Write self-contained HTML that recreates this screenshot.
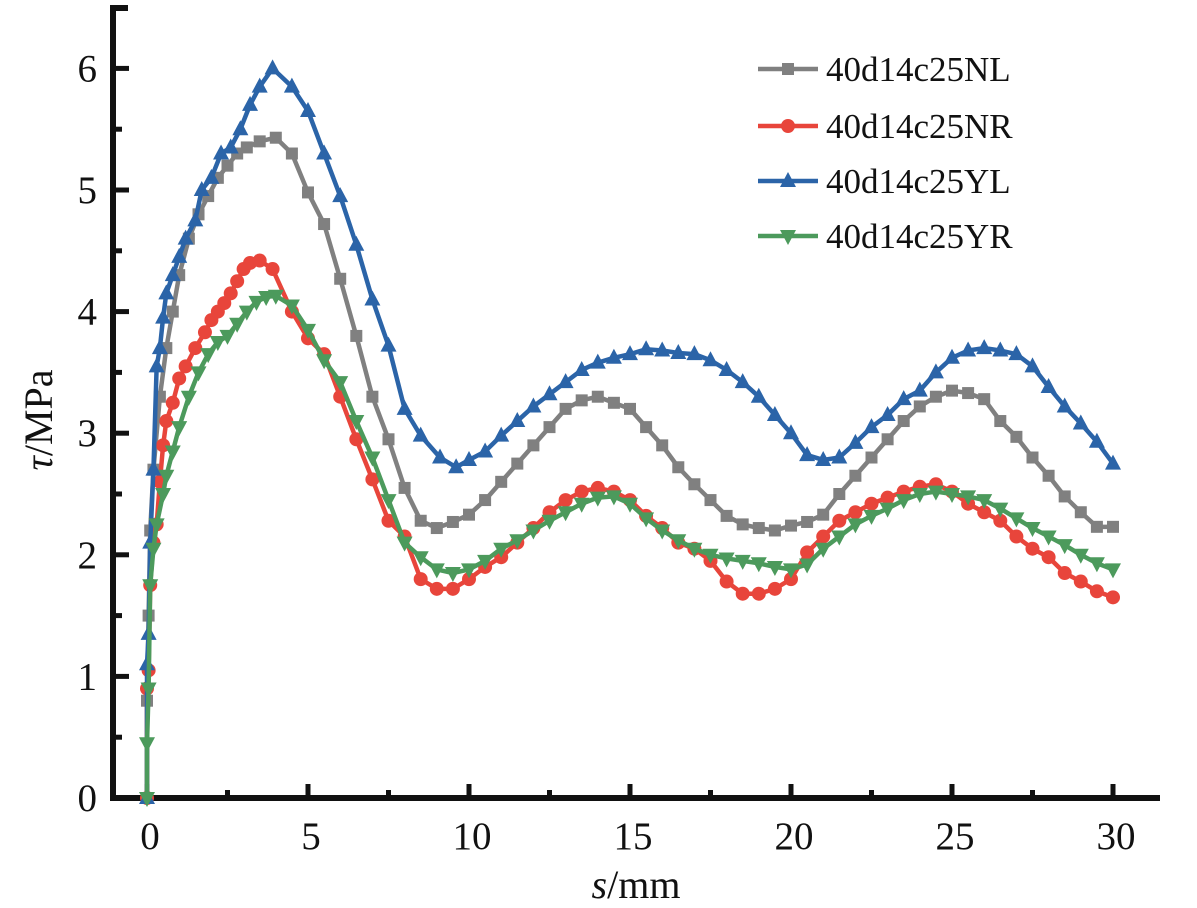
<!DOCTYPE html>
<html><head><meta charset="utf-8"><style>
html,body{margin:0;padding:0;background:#fff}
svg{display:block;font-family:"Liberation Serif",serif}
</style></head><body>
<svg id="chart" width="1197" height="908" viewBox="0 0 1197 908"></svg>
<script>
const seriesNames=["40d14c25NL","40d14c25NR","40d14c25YL","40d14c25YR"];
const xTicks=[0,5,10,15,20,25,30];
const yTicks=[0,1,2,3,4,5,6];
const nlS=[0,0,0.05,0.1,0.2,0.4,0.6,0.8,1.0,1.3,1.6,1.9,2.2,2.5,2.8,3.1,3.5,4.0,4.5,5,5.5,6,6.5,7,7.5,8,8.5,9,9.5,10,10.5,11,11.5,12,12.5,13,13.5,14,14.5,15,15.5,16,16.5,17,17.5,18,18.5,19,19.5,20,20.5,21,21.5,22,22.5,23,23.5,24,24.5,25,25.5,26,26.5,27,27.5,28,28.5,29,29.5,30];
const nlT=[0,0.8,1.5,2.2,2.7,3.3,3.7,4.0,4.3,4.6,4.8,4.95,5.1,5.2,5.3,5.35,5.4,5.43,5.3,4.98,4.72,4.27,3.8,3.3,2.95,2.55,2.28,2.22,2.27,2.33,2.45,2.6,2.75,2.9,3.05,3.2,3.27,3.3,3.25,3.2,3.05,2.9,2.72,2.58,2.45,2.32,2.25,2.22,2.2,2.24,2.27,2.33,2.5,2.65,2.8,2.95,3.1,3.22,3.3,3.35,3.33,3.28,3.1,2.97,2.8,2.65,2.48,2.35,2.23,2.23];
const nrS=[0,0,0.05,0.1,0.2,0.3,0.4,0.5,0.6,0.8,1.0,1.2,1.5,1.8,2.0,2.2,2.4,2.6,2.8,3.0,3.2,3.5,3.9,4.5,5,5.5,6,6.5,7,7.5,8,8.5,9,9.5,10,10.5,11,11.5,12,12.5,13,13.5,14,14.5,15,15.5,16,16.5,17,17.5,18,18.5,19,19.5,20,20.5,21,21.5,22,22.5,23,23.5,24,24.5,25,25.5,26,26.5,27,27.5,28,28.5,29,29.5,30];
const nrT=[0,0.9,1.05,1.75,2.1,2.25,2.6,2.9,3.1,3.25,3.45,3.55,3.7,3.83,3.93,4.0,4.07,4.15,4.25,4.35,4.4,4.42,4.35,4.0,3.78,3.65,3.3,2.95,2.62,2.28,2.15,1.8,1.72,1.72,1.8,1.9,1.98,2.1,2.22,2.35,2.45,2.52,2.55,2.52,2.45,2.32,2.22,2.1,2.05,1.95,1.78,1.68,1.68,1.72,1.8,2.02,2.15,2.28,2.35,2.42,2.47,2.52,2.56,2.58,2.52,2.42,2.35,2.28,2.15,2.05,1.98,1.85,1.78,1.7,1.65];
const ylS=[0,0,0.05,0.1,0.2,0.3,0.4,0.5,0.6,0.8,1.0,1.2,1.5,1.7,2.0,2.3,2.6,2.9,3.2,3.5,3.9,4.5,5,5.5,6,6.5,7,7.5,8,8.5,9.1,9.6,10,10.5,11,11.5,12,12.5,13,13.5,14,14.5,15,15.5,16,16.5,17,17.5,18,18.5,19,19.5,20,20.5,21,21.5,22,22.5,23,23.5,24,24.5,25,25.5,26,26.5,27,27.5,28,28.5,29,29.5,30];
const ylT=[0,1.1,1.35,2.1,2.7,3.55,3.7,3.95,4.15,4.3,4.45,4.6,4.75,5.0,5.1,5.3,5.35,5.5,5.7,5.85,6.0,5.85,5.65,5.3,4.95,4.55,4.1,3.72,3.2,2.98,2.8,2.72,2.78,2.85,2.98,3.1,3.22,3.32,3.42,3.52,3.58,3.62,3.65,3.69,3.68,3.66,3.65,3.6,3.52,3.42,3.3,3.15,3.0,2.82,2.78,2.8,2.92,3.05,3.15,3.28,3.35,3.5,3.62,3.68,3.7,3.68,3.65,3.55,3.38,3.22,3.08,2.93,2.75];
const yrS=[0,0,0.05,0.1,0.2,0.3,0.5,0.6,0.8,1.0,1.3,1.6,1.9,2.2,2.5,2.8,3.1,3.4,3.7,4.0,4.5,5,5.5,6,6.5,7,7.5,8,8.5,9,9.5,10,10.5,11,11.5,12,12.5,13,13.5,14,14.5,15,15.5,16,16.5,17,17.5,18,18.5,19,19.5,20,20.5,21,21.5,22,22.5,23,23.5,24,24.5,25,25.5,26,26.5,27,27.5,28,28.5,29,29.5,30];
const yrT=[0,0.45,0.9,1.75,2.05,2.25,2.5,2.65,2.85,3.05,3.3,3.5,3.65,3.75,3.8,3.9,4.0,4.08,4.12,4.13,4.05,3.85,3.6,3.42,3.1,2.8,2.45,2.1,1.98,1.88,1.85,1.88,1.95,2.05,2.12,2.2,2.28,2.35,2.42,2.47,2.48,2.42,2.3,2.2,2.12,2.05,2.0,1.97,1.95,1.93,1.9,1.88,1.92,2.05,2.15,2.25,2.32,2.38,2.45,2.5,2.52,2.5,2.48,2.45,2.38,2.3,2.22,2.15,2.08,2.0,1.93,1.88];

const NS="http://www.w3.org/2000/svg";
const svg=document.getElementById('chart');
const X=v=>147+v*32.2;
const Y=v=>798-v*121.6;
function mk(t,a,p){const e=document.createElementNS(NS,t);for(const k in a)e.setAttribute(k,a[k]);(p||svg).appendChild(e);return e;}

const axes=mk('g',{});


const ya=mk('line',{x1:113,y1:5,x2:113,y2:801,stroke:'#111','stroke-width':6},axes);


const xa=mk('line',{x1:110,y1:798,x2:1160,y2:798,stroke:'#111','stroke-width':6},axes);


mk('line',{x1:110,y1:8,x2:128,y2:8,stroke:'#111','stroke-width':6},axes);
for(let v=0;v<=6.01;v+=0.5){const big=Math.abs(v-Math.round(v))<0.01;
 mk('line',{x1:113,y1:Y(v),x2:113+(big?16:9),y2:Y(v),stroke:'#111','stroke-width':5},axes);}
for(let v=0;v<=30.01;v+=2.5){const big=v%5===0;
 mk('line',{x1:X(v),y1:798,x2:X(v),y2:798-(big?14:8),stroke:'#111','stroke-width':5},axes);}
yTicks.forEach(v=>{const t=mk('text',{x:97,y:Y(v)+13,'text-anchor':'end','font-size':39,fill:'#111'},axes);t.textContent=v;
 
 });
xTicks.forEach(v=>{const t=mk('text',{x:X(v)+3,y:849,'text-anchor':'middle','font-size':39,fill:'#111'},axes);t.textContent=v;
 
 });
const xt=mk('text',{x:636,y:898,'text-anchor':'middle','font-size':40,fill:'#111'});
xt.innerHTML='<tspan font-style="italic">s</tspan>/mm';


const yt=mk('text',{x:0,y:0,'text-anchor':'middle','font-size':40,fill:'#111',transform:'translate(52,420) rotate(-90)'});
yt.innerHTML='<tspan font-style="italic">τ</tspan>/MPa';



const colors=['#808080','#e8453b','#2b64a8','#4c9a5c'];
const shapes=['sq','ci','up','dn'];
function marker(g,shape,x,y,c){
 if(shape==='sq')mk('rect',{x:x-6,y:y-6,width:12,height:12,fill:c},g);
 else if(shape==='ci')mk('circle',{cx:x,cy:y,r:7,fill:c},g);
 else if(shape==='up')mk('polygon',{points:`${x},${y-9} ${x-8},${y+6} ${x+8},${y+6}`,fill:c},g);
 else mk('polygon',{points:`${x},${y+9} ${x-8},${y-6} ${x+8},${y-6}`,fill:c},g);
}
const data=[[nlS,nlT],[nrS,nrT],[ylS,ylT],[yrS,yrT]];
const slug=['nl','nr','yl','yr'];
data.forEach((d,i)=>{
 const g=mk('g',{});
 
 
 mk('polyline',{points:d[0].map((s,k)=>X(s)+','+Y(d[1][k])).join(' '),fill:'none',stroke:colors[i],'stroke-width':4.5,'stroke-linejoin':'round'},g);
 d[0].forEach((s,k)=>marker(g,shapes[i],X(s),Y(d[1][k]),colors[i]));
});
const ly=[69,126,181,236];
seriesNames.forEach((n,i)=>{
 const g=mk('g',{});
 
 
 mk('line',{x1:758,y1:ly[i],x2:818,y2:ly[i],stroke:colors[i],'stroke-width':4.5},g);
 marker(g,shapes[i],788,ly[i],colors[i]);
 const t=mk('text',{x:826,y:ly[i]+12,'font-size':35,fill:'#111'},g);t.textContent=n;
});
</script>
</body></html>
